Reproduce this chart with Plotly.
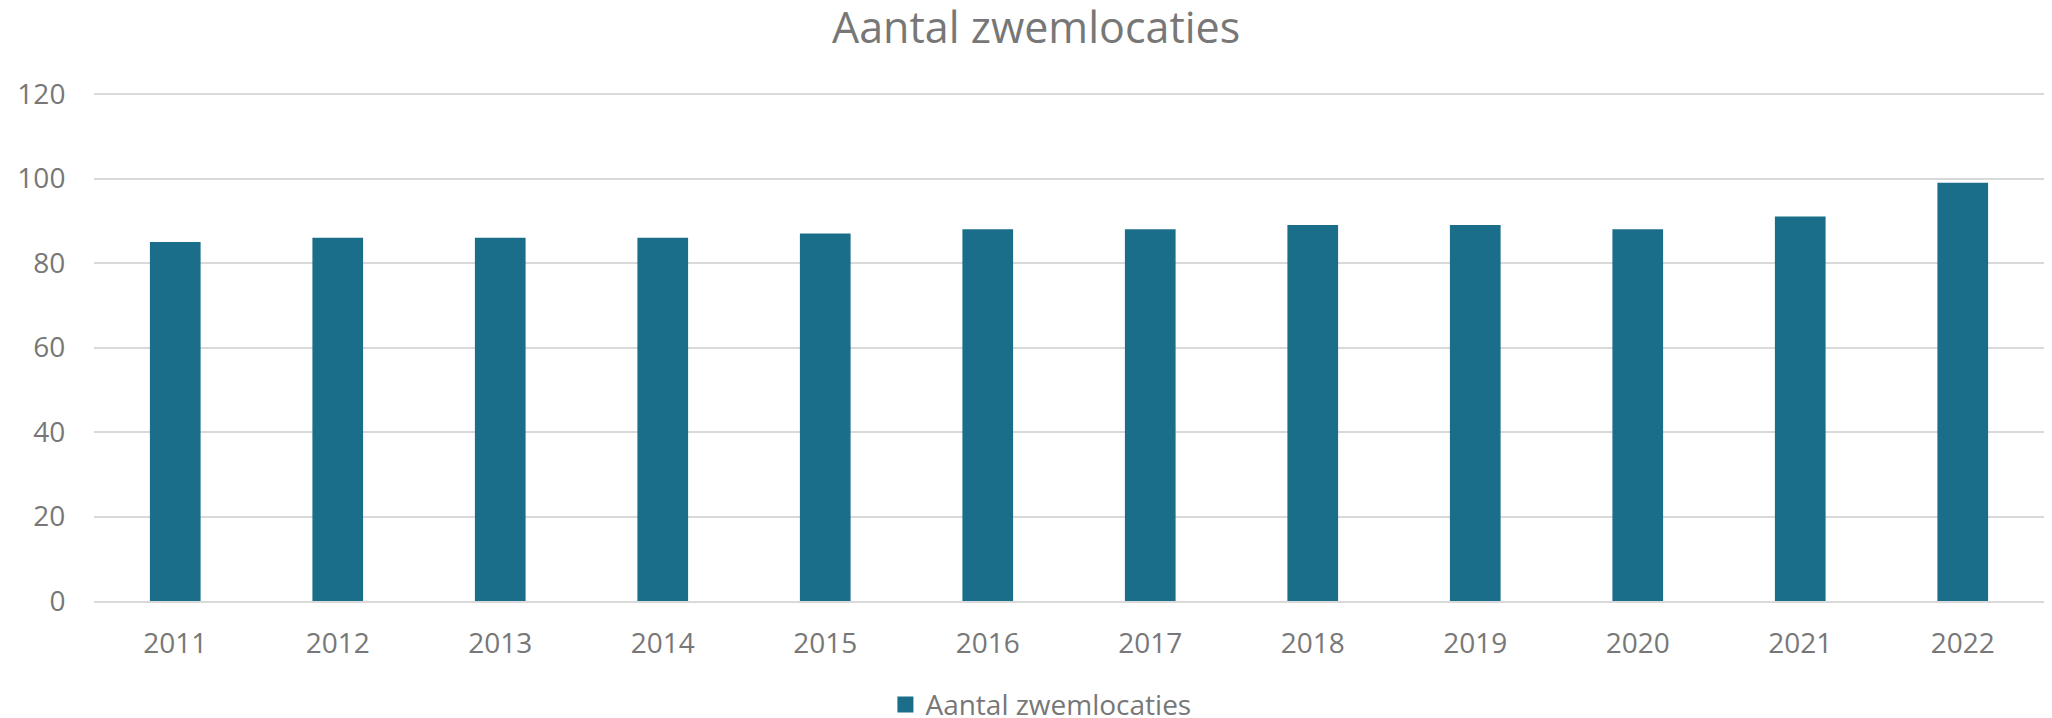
import plotly.graph_objects as go

years = ["2011", "2012", "2013", "2014", "2015", "2016", "2017", "2018", "2019", "2020", "2021", "2022"]
counts = [85, 86, 86, 86, 87, 88, 88, 89, 89, 88, 91, 99]
series_name = "Aantal zwemlocaties"
title_text = "Aantal zwemlocaties"
y_ticks = [0, 20, 40, 60, 80, 100, 120]

BAR = "#1B6E8A"
TXT = "#777777"
GRID = "#D9D9D9"
FONT = "Open Sans"

fig = go.Figure()
fig.add_trace(go.Bar(x=years, y=counts, name=series_name, marker_color=BAR,
                     marker_line_width=0, showlegend=False))
# legend entry with a larger square swatch
fig.add_trace(go.Scatter(x=[None], y=[None], mode="markers", name=series_name,
                         marker=dict(symbol="square", size=18, color=BAR), showlegend=True))

fig.update_layout(
    width=2044, height=710,
    margin=dict(l=86, r=8, t=84, b=117, autoexpand=False),
    paper_bgcolor="white", plot_bgcolor="white",
    bargap=0.688,
    font=dict(family=FONT, color=TXT, size=28),
    title=dict(text=title_text, x=0.503, xanchor="center", y=0.972, yanchor="middle",
               font=dict(family=FONT, size=43, color=TXT)),
    showlegend=True,
    legend=dict(orientation="h", x=0.4856, xanchor="center", y=-0.204, yanchor="middle",
                font=dict(family=FONT, size=28, color=TXT), itemwidth=30,
                bgcolor="rgba(0,0,0,0)"),
    xaxis=dict(showgrid=False, showline=True, linecolor=GRID, linewidth=2,
               ticks="outside", ticklen=16, tickcolor="rgba(0,0,0,0)",
               tickfont=dict(size=28, color=TXT), automargin=False),
    yaxis=dict(range=[0, 120.5], tickvals=y_ticks, showgrid=True, gridcolor=GRID, gridwidth=2,
               zeroline=False, showline=False, ticks="outside", ticklen=22,
               tickcolor="rgba(0,0,0,0)", tickfont=dict(size=28, color=TXT), automargin=False),
)

fig.write_html("out.html")
